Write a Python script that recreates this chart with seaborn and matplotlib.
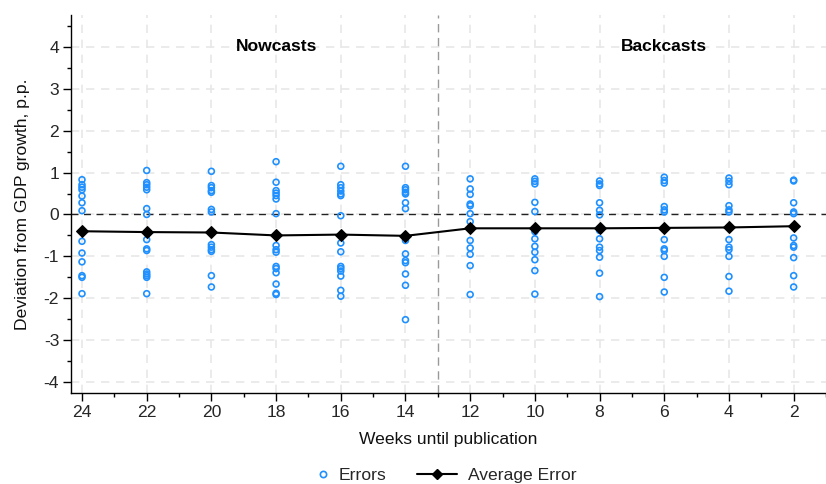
import numpy as np
import pandas as pd
import matplotlib
matplotlib.use("Agg")
import matplotlib.pyplot as plt
from matplotlib.ticker import MultipleLocator
from matplotlib.lines import Line2D
import seaborn as sns

weeks = [24, 22, 20, 18, 16, 14, 12, 10, 8, 6, 4, 2]
errors_w24 = [0.83, 0.71, 0.65, 0.59, 0.44, 0.28, 0.09, -0.64, -0.92, -1.13, -1.46, -1.50, -1.89]
errors_w22 = [1.05, 0.76, 0.71, 0.65, 0.59, 0.14, 0.00, -0.60, -0.82, -0.86, -1.37, -1.42, -1.46, -1.50, -1.89]
errors_w20 = [1.03, 0.69, 0.64, 0.57, 0.53, 0.12, 0.06, -0.72, -0.78, -0.84, -0.88, -1.46, -1.73]
errors_w18 = [1.26, 0.77, 0.57, 0.51, 0.45, 0.37, 0.02, -0.74, -0.84, -0.90, -1.24, -1.29, -1.39, -1.66, -1.88, -1.91]
errors_w16 = [1.15, 0.71, 0.64, 0.56, 0.49, 0.45, -0.03, -0.68, -0.89, -1.24, -1.29, -1.35, -1.47, -1.81, -1.95]
errors_w14 = [1.15, 0.64, 0.59, 0.53, 0.49, 0.28, 0.14, -0.62, -0.94, -1.10, -1.15, -1.42, -1.69, -2.51]
errors_w12 = [0.85, 0.61, 0.48, 0.25, 0.21, 0.02, -0.17, -0.62, -0.80, -0.95, -1.22, -1.91]
errors_w10 = [0.85, 0.79, 0.73, 0.29, 0.07, -0.41, -0.58, -0.76, -0.90, -1.08, -1.34, -1.90]
errors_w8 = [0.80, 0.73, 0.69, 0.28, 0.10, -0.01, -0.38, -0.58, -0.78, -0.86, -1.02, -1.40, -1.96]
errors_w6 = [0.89, 0.81, 0.75, 0.19, 0.11, 0.06, -0.60, -0.82, -0.86, -1.00, -1.50, -1.85]
errors_w4 = [0.87, 0.79, 0.71, 0.21, 0.11, 0.06, -0.60, -0.78, -0.84, -1.00, -1.48, -1.83]
errors_w2 = [0.82, 0.80, 0.28, 0.06, 0.02, -0.56, -0.74, -0.78, -1.03, -1.46, -1.73]
avg_error = [-0.40, -0.42, -0.43, -0.50, -0.48, -0.51, -0.33, -0.33, -0.33, -0.32, -0.31, -0.28]

all_errors = [errors_w24, errors_w22, errors_w20, errors_w18, errors_w16, errors_w14,
              errors_w12, errors_w10, errors_w8, errors_w6, errors_w4, errors_w2]
err_df = pd.DataFrame([(w, e) for w, errs in zip(weeks, all_errors) for e in errs],
                      columns=["week", "error"])
avg_df = pd.DataFrame({"week": weeks, "avg": avg_error})

sns.set_theme(style="white")
plt.rcParams["font.family"] = ["Liberation Sans", "DejaVu Sans"]
plt.rcParams["axes.unicode_minus"] = False

FS = 12.6
fig = plt.figure(figsize=(8.26, 4.84), dpi=100)
ax = fig.add_axes([71/826, 1-393/484, 1-71/826, (393-15)/484])

blue = "#1E90FF"
# grid
for w in weeks:
    ax.axvline(w, color="#e8e8e8", lw=1.2, ls=(0, (5, 4)), zorder=0)
for yv in range(-4, 5):
    ax.axhline(yv, color="#e8e8e8", lw=1.2, ls=(0, (5, 4)), zorder=0)
ax.axhline(0, color="#222222", lw=1.0, ls=(0, (5, 4)), zorder=1)
ax.axvline(13, color="#999999", lw=1.0, ls=(0, (6, 4)), zorder=1)

sns.scatterplot(data=err_df, x="week", y="error", ax=ax, marker="o", s=18,
                facecolor="none", edgecolor=blue, linewidth=1.2, zorder=3, legend=False)
sns.lineplot(data=avg_df, x="week", y="avg", ax=ax, color="black", lw=1.5,
             marker="D", markersize=6, markeredgecolor="black", zorder=4, legend=False)

ax.set_xlim(24.34, 1.0)
ax.set_ylim(-4.26, 4.76)
ax.set_xticks(weeks)
ax.set_xticklabels([str(w) for w in weeks])
ax.xaxis.set_minor_locator(MultipleLocator(1))
ax.set_yticks(range(-4, 5))
ax.yaxis.set_minor_locator(MultipleLocator(0.5))
ax.tick_params(axis="both", which="major", direction="out", length=5.5, width=1,
               color="black", labelsize=FS, bottom=True, left=True, pad=3)
ax.tick_params(axis="both", which="minor", direction="out", length=3, width=1,
               color="black", bottom=True, left=True)
for s in ["top", "right"]:
    ax.spines[s].set_visible(False)
for s in ["left", "bottom"]:
    ax.spines[s].set_color("black")
    ax.spines[s].set_linewidth(1.0)

ax.set_xlabel("Weeks until publication", fontsize=FS, labelpad=9, color="#111111")
ax.set_ylabel("Deviation from GDP growth, p.p.", fontsize=FS, labelpad=10, color="#111111")

ax.text(18, 4.0, "Nowcasts", ha="center", va="center", fontsize=FS, fontweight="bold", color="black")
ax.text(6, 4.0, "Backcasts", ha="center", va="center", fontsize=FS, fontweight="bold", color="black")

h_err = Line2D([], [], ls="none", marker="o", markersize=4.5, markerfacecolor="none",
               markeredgecolor=blue, markeredgewidth=1.2)
h_avg = Line2D([], [], color="black", lw=1.5, marker="D", markersize=5, markeredgecolor="black")
leg_y = 1 - 475/484
fig.legend([h_err], ["Errors"], loc="center left", bbox_to_anchor=(314/826, leg_y),
           frameon=False, fontsize=FS, handlelength=1.0, handletextpad=0.4,
           borderpad=0, borderaxespad=0)
fig.legend([h_avg], ["Average Error"], loc="center left", bbox_to_anchor=(417/826, leg_y),
           frameon=False, fontsize=FS, handlelength=2.29, handletextpad=0.63,
           borderpad=0, borderaxespad=0)

fig.savefig("out.png", dpi=100)
